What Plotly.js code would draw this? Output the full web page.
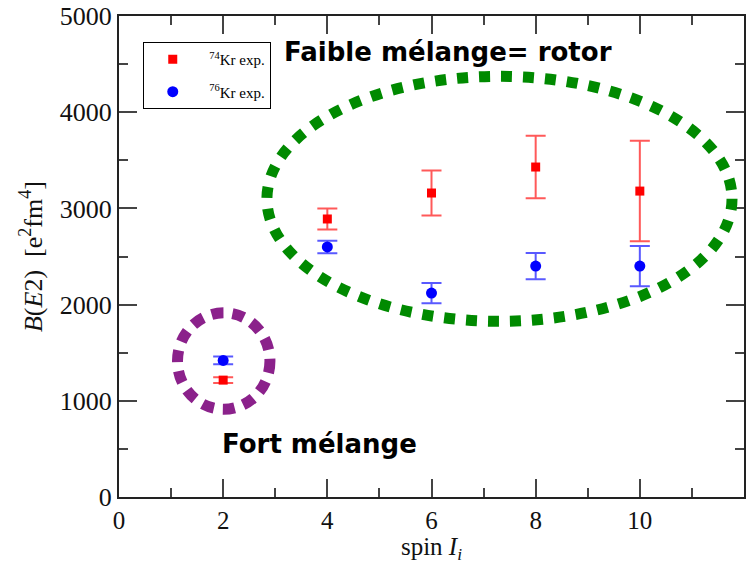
<!DOCTYPE html>
<html>
<head>
<meta charset="utf-8">
<script src="https://cdn.plot.ly/plotly-3.0.1.min.js"></script>
<style>html,body{margin:0;padding:0;background:#fff;}#chart{width:756px;height:564px;}</style>
</head>
<body>
<div id="chart"></div>
<script>
// Data
const spin = [2, 4, 6, 8, 10];
const kr74 = [1215, 2890, 3160, 3430, 3180];
const kr74Err = [30, 110, 233, 325, 522];
const kr76 = [1420, 2600, 2120, 2400, 2400];
const kr76Err = [40, 65, 105, 137, 210];
const xTicks = [0, 2, 4, 6, 8, 10, 12];
const yTicks = [0, 1000, 2000, 3000, 4000, 5000];
const labelRotor = "Faible mélange= rotor";
const labelFort = "Fort mélange";

const traces = [
  {
    x: spin, y: kr74, type: 'scatter', mode: 'markers',
    name: '&nbsp;&nbsp;<sup>74</sup>Kr exp.', legendgroup: 'a',
    marker: {symbol: 'square', size: 9, color: '#ff0000'},
    error_y: {type: 'data', array: kr74Err, visible: true, color: 'rgba(255,0,0,0.65)', thickness: 2, width: 10}
  },
  {
    x: spin, y: kr76, type: 'scatter', mode: 'markers',
    name: '&nbsp;&nbsp;<sup>76</sup>Kr exp.', legendgroup: 'b',
    marker: {symbol: 'circle', size: 11, color: '#0000ff'},
    error_y: {type: 'data', array: kr76Err, visible: true, color: 'rgba(0,0,255,0.65)', thickness: 2, width: 10}
  }
];

const serif = 'Liberation Serif, Times New Roman, serif';
const axisCommon = {
  showgrid: false, zeroline: false, showline: true, linecolor: '#222', linewidth: 2,
  mirror: 'allticks', ticks: 'inside', ticklen: 18, tickwidth: 2, tickcolor: '#444',
  tickfont: {family: serif, size: 26, color: '#111'}
};

const layout = {
  width: 756, height: 564,
  margin: {l: 119, r: 12, t: 16, b: 67},
  paper_bgcolor: '#fff', plot_bgcolor: '#fff',
  showlegend: true,
  legend: {
    x: 0.038, y: 0.946, xanchor: 'left', yanchor: 'top',
    bordercolor: '#000', borderwidth: 1, bgcolor: '#fff',
    font: {family: serif, size: 15, color: '#000'},
    itemwidth: 48, tracegroupgap: 10, traceorder: 'grouped'
  },
  xaxis: Object.assign({}, axisCommon, {
    range: [0, 12], tickmode: 'array', tickvals: xTicks, ticktext: xTicks.map(String),
    tickfont: {family: serif, size: 25, color: '#111'},
    minor: {dtick: 1, ticks: 'inside', ticklen: 9, tickwidth: 2, tickcolor: '#444'},
    title: {text: 'spin <i>I<sub>i</sub></i>', font: {family: serif, size: 25, color: '#111'}, standoff: 7}
  }),
  yaxis: Object.assign({}, axisCommon, {
    range: [0, 5000], tickmode: 'array', tickvals: yTicks, ticktext: yTicks.map(String),
    minor: {dtick: 500, ticks: 'inside', ticklen: 9, tickwidth: 2, tickcolor: '#444'},
    title: {text: '<i>B</i>(<i>E</i>2)  [e<sup>2</sup>fm<sup>4</sup>]', font: {family: serif, size: 26, color: '#111'}, standoff: 10}
  }),
  shapes: [
    {type: 'circle', xref: 'x', yref: 'y', x0: 2.84, x1: 11.77, y0: 1826, y1: 4373,
     line: {color: '#008a00', width: 11, dash: '11px,11px'}},
    {type: 'circle', xref: 'x', yref: 'y', x0: 1.123, x1: 2.898, y0: 912, y1: 1915,
     line: {color: '#8b218b', width: 11, dash: '12px,9px'}}
  ],
  annotations: [
    {text: '<b>' + labelRotor + '</b>', xref: 'x', yref: 'y', x: 3.12, y: 4625, xanchor: 'left', yanchor: 'middle',
     showarrow: false, font: {family: 'DejaVu Sans, sans-serif', size: 26, color: '#000'}},
    {text: '<b>' + labelFort + '</b>', xref: 'x', yref: 'y', x: 1.93, y: 550, xanchor: 'left', yanchor: 'middle',
     showarrow: false, font: {family: 'DejaVu Sans, sans-serif', size: 26, color: '#000'}}
  ]
};

Plotly.newPlot('chart', traces, layout, {displayModeBar: false, staticPlot: true});
</script>
</body>
</html>
